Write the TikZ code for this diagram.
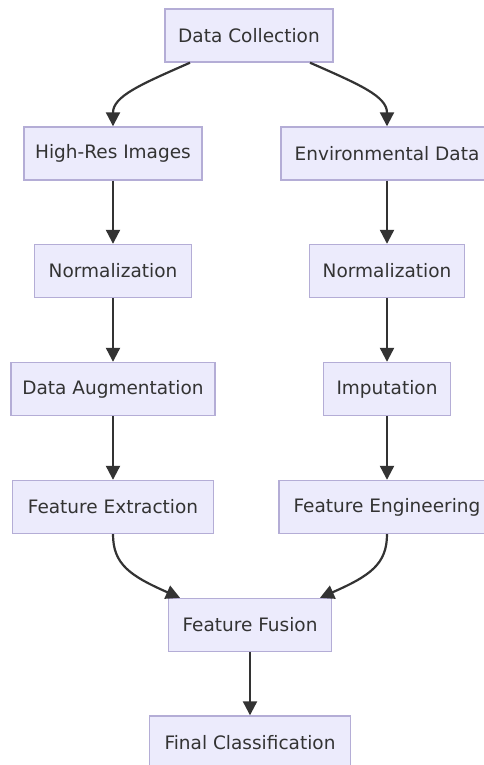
\documentclass[tikz,border=0pt]{standalone}
\usepackage{fontspec}
\setmainfont{DejaVu Sans}
\usetikzlibrary{arrows.meta,calc}
\definecolor{boxfill}{HTML}{ECEBFC}
\definecolor{boxline}{HTML}{B4ADD6}
\definecolor{ink}{HTML}{333333}
\begin{document}
\begin{tikzpicture}[x=1pt,y=-1pt,
  box/.style={draw=boxline,fill=boxfill,line width=1.4pt,minimum height=53pt,inner sep=0pt,
    text=ink,font=\fontsize{18.5}{20}\selectfont},
  flow/.style={draw=ink,line width=2.2pt,-{Triangle[length=14pt,width=14pt]}}]
\useasboundingbox (0,0) rectangle (483,765);
\fill[white] (0,0) rectangle (483,765);
\node[box,minimum width=168pt] (dc) at (249,35.5) {Data Collection};
\node[box,minimum width=178pt] (hr) at (113,153.5) {High-Res Images};
\node[box,minimum width=212pt] (ed) at (387,153.5) {Environmental Data};
\node[box,minimum width=157pt] (nl) at (113,271) {Normalization};
\node[box,minimum width=155pt] (nr) at (387,271) {Normalization};
\node[box,minimum width=204pt] (da) at (113,389) {Data Augmentation};
\node[box,minimum width=127pt] (im) at (387,389) {Imputation};
\node[box,minimum width=201pt] (fe) at (113,507) {Feature Extraction};
\node[box,minimum width=216pt] (fg) at (387,507) {Feature Engineering};
\node[box,minimum width=163pt] (ff) at (250,625) {Feature Fusion};
\node[box,minimum width=201pt] (fc) at (250,742.5) {Final Classification};
% top split
\draw[flow] ($(dc.south)+(-59,0)$) .. controls +(-50,22) and +(0,-30) .. (hr.north);
\draw[flow] ($(dc.south)+(61,0)$) .. controls +(50,22) and +(0,-30) .. (ed.north);
% straight chains
\draw[flow] (hr.south) -- (nl.north);
\draw[flow] (nl.south) -- (da.north);
\draw[flow] (da.south) -- (fe.north);
\draw[flow] (ed.south) -- (nr.north);
\draw[flow] (nr.south) -- (im.north);
\draw[flow] (im.south) -- (fg.north);
% merge
\draw[flow] (fe.south) .. controls +(0,30) and +(-50,-22) .. ($(ff.north)+(-70,0)$);
\draw[flow] (fg.south) .. controls +(0,30) and +(50,-22) .. ($(ff.north)+(70,0)$);
\draw[flow] (ff.south) -- (fc.north);
\end{tikzpicture}
\end{document}
